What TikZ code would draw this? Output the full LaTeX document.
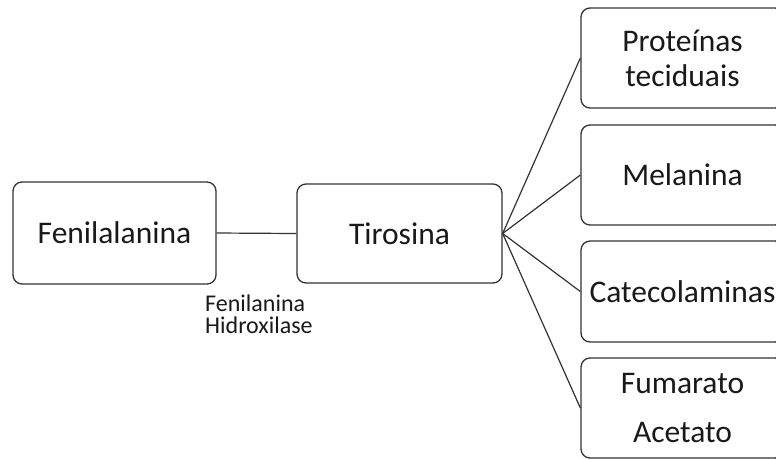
\documentclass[tikz,border=0pt]{standalone}
\usepackage{fontspec}
\setmainfont{Carlito}
\begin{document}
\begin{tikzpicture}[x=1pt,y=-1pt,
  box/.style={draw=black!80, line width=1.3pt, rounded corners=9pt, inner sep=0pt,
    minimum width=203pt, minimum height=100pt, align=center,
    font=\fontsize{31.5}{35}\selectfont, text=black!90},
  link/.style={draw=black!80, line width=1.2pt}]
\useasboundingbox (0,0) rectangle (776,459);
\clip (0,0) rectangle (776,459);
\node[box, minimum height=102pt] (fen) at (114.5,233) {Fenilalanina};
\node[box, minimum width=205pt, minimum height=99pt] (tir) at (399.5,233.5) {Tirosina};
\node[box] (prot) at (682.5,58) {Proteínas\\teciduais};
\node[box] (mel) at (682.5,175) {Melanina};
\node[box, minimum height=101pt] (cat) at (682.5,291.5) {Catecolaminas};
\node[box, font=\fontsize{31.5}{49}\selectfont] (fum) at (682.5,408) {Fumarato\\Acetato};
\node[anchor=north west, inner sep=0pt, align=left, font=\fontsize{24}{22}\selectfont, text=black!90]
  (enz) at (205,295) {Fenilanina\\Hidroxilase};
\draw[link] (fen.east) -- (tir.west);
\draw[link] (tir.east) -- (prot.west);
\draw[link] (tir.east) -- (mel.west);
\draw[link] (tir.east) -- (cat.west);
\draw[link] (tir.east) -- (fum.west);
\end{tikzpicture}
\end{document}
